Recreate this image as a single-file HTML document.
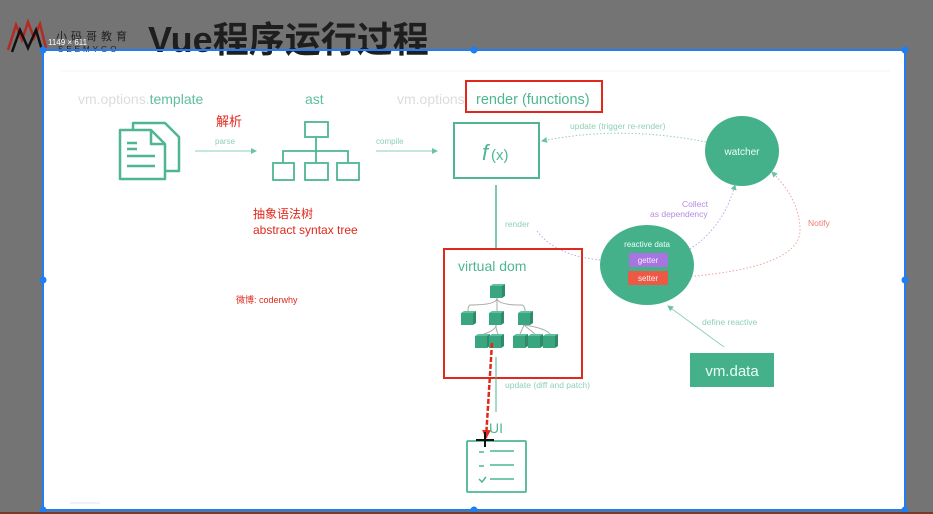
<!DOCTYPE html>
<html><head><meta charset="utf-8"><style>
html,body{margin:0;padding:0;width:933px;height:514px;overflow:hidden;background:#747474}
svg{display:block}
text{font-family:"Liberation Sans","Noto Sans CJK SC",sans-serif}
</style></head><body>
<svg width="933" height="514" viewBox="0 0 933 514" xmlns="http://www.w3.org/2000/svg">
<defs>
<marker id="ga" markerUnits="userSpaceOnUse" markerWidth="6" markerHeight="6" refX="5" refY="3" orient="auto"><path d="M0,0 L6,3 L0,6 z" fill="#6cc2a3"/></marker>
<marker id="ra" markerUnits="userSpaceOnUse" markerWidth="9" markerHeight="9" refX="8" refY="4.5" orient="auto"><path d="M0,0 L9,4.5 L0,9 z" fill="#e0281c"/></marker>
<g id="cube"><rect x="0" y="2" width="12" height="12" fill="#3aa67f"/><path d="M0,2 L3,0 L15,0 L12,2 z" fill="#5cc39c"/><path d="M12,2 L15,0 L15,12 L12,14 z" fill="#2e8a68"/></g>
</defs>
<rect width="933" height="514" fill="#747474"/>
<!-- white canvas -->
<rect x="43" y="50" width="862" height="460" fill="#fff"/>
<line x1="60" y1="71" x2="890" y2="71" stroke="#f4f4f4"/>
<!-- logo & title (over canvas) -->
<path d="M8,50 L16,25 L22,40 L28,22 L34,38 L40,24 L46,48" fill="none" stroke="#b52a22" stroke-width="2.5"/>
<path d="M12,52 L20,30 L28,48 L36,30 L42,50" fill="none" stroke="#111" stroke-width="2.5"/>
<text x="56" y="40" font-size="11" fill="#222" letter-spacing="4">小码哥教育</text>
<text x="58" y="52" font-size="8" fill="#222" letter-spacing="3">SEEMYGO</text>
<text x="148" y="52" font-size="36" font-weight="bold" fill="#1e1e1e">Vue程序运行过程</text>
<text x="48" y="45" font-size="8" fill="#fff">1149 × 611</text>
<rect x="43" y="50" width="862" height="460" fill="none" stroke="#1e7ef2" stroke-width="2"/>
<g fill="#1e7ef2">
<circle cx="43" cy="50" r="3.5"/><circle cx="474" cy="50" r="3.5"/><circle cx="905" cy="50" r="3.5"/>
<circle cx="43" cy="280" r="3.5"/><circle cx="905" cy="280" r="3.5"/>
<circle cx="43" cy="510" r="3.5"/><circle cx="474" cy="510" r="3.5"/><circle cx="905" cy="510" r="3.5"/>
</g>
<rect x="0" y="512" width="933" height="2" fill="#7a3a2a"/>
<!-- headings -->
<text x="78" y="104" font-size="14" fill="#dcdcdc">vm.options.<tspan fill="#5dbf9c">template</tspan></text>
<text x="305" y="104" font-size="14" fill="#5dbf9c">ast</text>
<text x="397" y="104" font-size="14" fill="#dcdcdc">vm.options</text>
<rect x="466" y="81" width="136" height="31" fill="#fff" stroke="#e0281c" stroke-width="2"/>
<text x="476" y="104" font-size="14.5" fill="#4fb691">render (functions)</text>
<!-- doc icon -->
<g fill="#fff" stroke="#4fb691" stroke-width="2.5" stroke-linejoin="round">
<path d="M133,123 L165,123 L179,137 L179,171 L133,171 z"/>
<path d="M120,130 L151,130 L165,144 L165,179 L120,179 z"/>
<path d="M151,130 L151,144 L165,144" fill="none"/>
</g>
<g stroke="#4fb691" stroke-width="2.5"><line x1="127" y1="143" x2="137" y2="143"/><line x1="127" y1="149" x2="137" y2="149"/><line x1="127" y1="156" x2="155" y2="156"/><line x1="127" y1="166" x2="155" y2="166"/></g>
<text x="216" y="126" font-size="13" fill="#e0281c">解析</text>
<text x="215" y="144" font-size="8" fill="#8fcfb6">parse</text>
<line x1="195" y1="151" x2="256" y2="151" stroke="#8fcfb6" marker-end="url(#ga)"/>
<!-- ast tree -->
<g fill="none" stroke="#4fb691" stroke-width="1.8">
<rect x="305" y="122" width="23" height="15"/>
<line x1="316" y1="137" x2="316" y2="151"/>
<path d="M283,163 L283,151 L348,151 L348,163"/>
<line x1="316" y1="151" x2="316" y2="163"/>
<rect x="273" y="163" width="21" height="17"/><rect x="305" y="163" width="23" height="17"/><rect x="337" y="163" width="22" height="17"/>
</g>
<text x="376" y="144" font-size="8" fill="#8fcfb6">compile</text>
<line x1="376" y1="151" x2="437" y2="151" stroke="#8fcfb6" marker-end="url(#ga)"/>
<text x="253" y="218" font-size="12" fill="#e0281c">抽象语法树</text>
<text x="253" y="234" font-size="12" fill="#e0281c">abstract syntax tree</text>
<text x="236" y="303" font-size="9" fill="#e0281c">微博: coderwhy</text>
<!-- f(x) -->
<rect x="454" y="123" width="85" height="55" fill="none" stroke="#4fb691" stroke-width="2"/>
<text x="482" y="160" font-size="22" font-style="italic" font-family="Liberation Serif,serif" fill="#4fb691">f</text>
<text x="491" y="160" font-size="15" fill="#4fb691">(x)</text>
<!-- watcher -->
<text x="570" y="129" font-size="8.5" fill="#8fcfb6">update (trigger re-render)</text>
<path d="M706,142 Q620,125 542,141" fill="none" stroke="#8fcfb6" stroke-dasharray="1.5,2" marker-end="url(#ga)"/>
<ellipse cx="742" cy="151" rx="37" ry="35" fill="#45b18b"/>
<text x="742" y="155" font-size="10" fill="#e8fff6" text-anchor="middle">watcher</text>
<text x="682" y="207" font-size="8.5" fill="#b48ce0">Collect</text>
<text x="650" y="217" font-size="8.5" fill="#b48ce0">as dependency</text>
<path d="M668,260 Q720,240 735,185" fill="none" stroke="#c5a5ea" stroke-dasharray="1.5,2" marker-end="url(#ga)"/>
<path d="M670,278 Q800,270 800,230 Q800,200 772,172" fill="none" stroke="#f2a0a0" stroke-dasharray="1.5,2" marker-end="url(#ga)"/>
<text x="808" y="226" font-size="8.5" fill="#ef7a6e">Notify</text>
<!-- reactive data -->
<text x="505" y="227" font-size="8.5" fill="#8fcfb6">render</text>
<path d="M537,231 Q560,262 626,261" fill="none" stroke="#c5a5ea" stroke-dasharray="1.5,2"/>
<ellipse cx="647" cy="265" rx="47" ry="40" fill="#45b18b"/>
<text x="647" y="247" font-size="8" fill="#e8fff6" text-anchor="middle">reactive data</text>
<rect x="629" y="253" width="39" height="14" fill="#a774e0"/>
<text x="648" y="263" font-size="8" fill="#f5ecff" text-anchor="middle">getter</text>
<rect x="628" y="271" width="40" height="14" fill="#ec5a45"/>
<text x="648" y="281" font-size="8" fill="#ffeeee" text-anchor="middle">setter</text>
<line x1="724" y1="347" x2="668" y2="306" stroke="#8fcfb6" marker-end="url(#ga)"/>
<text x="702" y="325" font-size="8.5" fill="#8fcfb6">define reactive</text>
<rect x="690" y="353" width="84" height="34" fill="#45b18b"/>
<text x="732" y="376" font-size="15" fill="#e8fff6" text-anchor="middle">vm.data</text>
<!-- virtual dom -->
<line x1="496" y1="185" x2="496" y2="248" stroke="#4fb691" stroke-width="1.5"/>
<rect x="444" y="249" width="138" height="129" fill="none" stroke="#e0281c" stroke-width="2"/>
<text x="458" y="271" font-size="14" fill="#4fb691">virtual dom</text>
<g fill="none" stroke="#aaa" stroke-width="1">
<path d="M497,298 Q497,305 470,305 Q468,306 468,311"/><path d="M497,298 L497,311"/><path d="M497,298 Q497,305 522,305 Q525,306 525,311"/>
<path d="M496,325 Q496,330 484,334"/><path d="M496,325 Q496,330 498,334"/>
<path d="M524,325 L520,334"/><path d="M524,325 Q530,330 535,334"/><path d="M524,325 Q545,328 550,334"/>
</g>
<use href="#cube" x="490" y="284"/>
<use href="#cube" x="461" y="311"/><use href="#cube" x="489" y="311"/><use href="#cube" x="518" y="311"/>
<use href="#cube" x="475" y="334"/><use href="#cube" x="489" y="334"/><use href="#cube" x="513" y="334"/><use href="#cube" x="528" y="334"/><use href="#cube" x="543" y="334"/>
<line x1="496" y1="357" x2="496" y2="412" stroke="#4fb691" stroke-width="1"/>
<text x="505" y="388" font-size="8.5" fill="#8fcfb6">update (diff and patch)</text>
<line x1="492" y1="343" x2="486" y2="438" stroke="#e0281c" stroke-width="2.5" stroke-dasharray="5,2" marker-end="url(#ra)"/>
<text x="489" y="433" font-size="14" fill="#4fb691">UI</text>
<!-- UI icon -->
<rect x="467" y="441" width="59" height="51" fill="none" stroke="#4fb691" stroke-width="1.8" rx="1"/>
<g stroke="#4fb691" stroke-width="1.5"><line x1="479" y1="452" x2="484" y2="452"/><line x1="490" y1="451" x2="514" y2="451"/><line x1="479" y1="466" x2="484" y2="466"/><line x1="490" y1="465" x2="514" y2="465"/><path d="M479,479 L482,482 L486,477" fill="none"/><line x1="490" y1="479" x2="514" y2="479"/></g>
<path d="M476,440 L494,440 M485,432 L485,447" stroke="#111" stroke-width="2"/>
<line x1="70" y1="503" x2="100" y2="503" stroke="#e6e6e6"/>
</svg>
</body></html>
